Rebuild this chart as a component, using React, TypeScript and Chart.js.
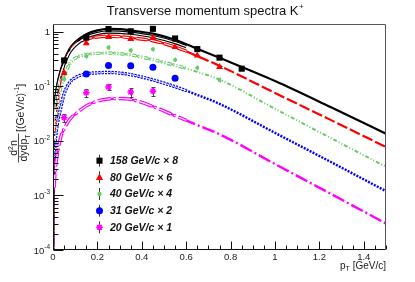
import React, { useEffect, useRef } from 'react';
import { Chart, registerables } from 'chart.js';
Chart.register(...registerables);

// ---------- data ----------
const CURVE_PT = [0, 0.002, 0.005, 0.01, 0.02, 0.035, 0.05, 0.075, 0.1, 0.15, 0.2, 0.25, 0.3, 0.35, 0.45, 0.55, 0.65, 0.75, 1.0, 1.25, 1.5];
const CURVE_158 = [1e-5, 0.011, 0.028, 0.055, 0.11, 0.2, 0.3, 0.49, 0.65, 0.91, 1.07, 1.14, 1.13, 1.07, 0.93, 0.72, 0.49, 0.335, 0.126, 0.042, 0.0136];
const CURVE_80 = [1e-5, 0.006, 0.015, 0.03, 0.061, 0.155, 0.26, 0.44, 0.59, 0.74, 0.81, 0.835, 0.82, 0.78, 0.69, 0.53, 0.36, 0.24, 0.076, 0.0244, 0.00775];
const CURVE_40 = [1e-5, 0.0042, 0.0105, 0.021, 0.042, 0.095, 0.15, 0.26, 0.33, 0.385, 0.405, 0.412, 0.4, 0.38, 0.31, 0.245, 0.185, 0.134, 0.039, 0.0114, 0.00336];
const CURVE_31 = [1e-6, 0.002, 0.0049, 0.0098, 0.021, 0.041, 0.073, 0.118, 0.145, 0.17, 0.178, 0.181, 0.176, 0.165, 0.132, 0.099, 0.07, 0.048, 0.0141, 0.00415, 0.0012];
const CURVE_20 = [1e-7, 0.0006, 0.0014, 0.0029, 0.0059, 0.0118, 0.0166, 0.0248, 0.031, 0.044, 0.054, 0.059, 0.06, 0.058, 0.043, 0.029, 0.0195, 0.0133, 0.00378, 0.00108, 0.000306];

const BAND_PT = [0.005, 0.01, 0.02, 0.035, 0.05, 0.075, 0.1, 0.15, 0.2, 0.25, 0.3, 0.35, 0.45, 0.55, 0.6];
const BAND_158 = [0.024, 0.048, 0.095, 0.175, 0.26, 0.43, 0.57, 0.8, 0.94, 1.0, 0.99, 0.95, 0.82, 0.64, 0.54];
const BAND_80 = [0.015, 0.03, 0.061, 0.155, 0.26, 0.44, 0.59, 0.74, 0.81, 0.835, 0.82, 0.78, 0.69, 0.53, 0.445];
const BAND_40 = [0.0105, 0.021, 0.042, 0.095, 0.15, 0.26, 0.33, 0.385, 0.405, 0.412, 0.4, 0.38, 0.31, 0.245, 0.215];
const BAND_31 = [0.0049, 0.0098, 0.021, 0.041, 0.073, 0.118, 0.145, 0.17, 0.178, 0.181, 0.176, 0.165, 0.132, 0.099, 0.084];
const BAND_20 = [0.0014, 0.0029, 0.0059, 0.0118, 0.0166, 0.0248, 0.031, 0.044, 0.054, 0.059, 0.06, 0.058, 0.043, 0.029, 0.024];

const PT_158 = [0.05, 0.15, 0.25, 0.35, 0.45, 0.55, 0.65, 0.75, 0.85];
const Y_158 = [0.3, 0.79, 1.13, 1.03, 1.14, 0.76, 0.485, 0.338, 0.212];
const E_158 = [0.01, 0.02, 0.03, 0.03, 0.03, 0.02, 0.015, 0.01, 0.008];
const PT_80 = [0.05, 0.15, 0.25, 0.35, 0.45, 0.55, 0.65, 0.75];
const Y_80 = [0.179, 0.62, 0.81, 0.74, 0.78, 0.53, 0.37, 0.228];
const E_80 = [0.008, 0.02, 0.025, 0.025, 0.025, 0.02, 0.015, 0.01];
const PT_40 = [0.05, 0.15, 0.25, 0.35, 0.45, 0.55, 0.65, 0.75];
const Y_40 = [0.136, 0.36, 0.52, 0.46, 0.48, 0.31, 0.22, 0.132];
const E_40 = [0.014, 0.035, 0.05, 0.045, 0.045, 0.03, 0.022, 0.014];
const PT_31 = [0.15, 0.25, 0.35, 0.45, 0.55];
const Y_31 = [0.17, 0.242, 0.24, 0.225, 0.141];
const E_31 = [0.01, 0.012, 0.012, 0.012, 0.008];
const PT_20 = [0.05, 0.15, 0.25, 0.35, 0.45];
const Y_20 = [0.0268, 0.077, 0.098, 0.079, 0.082];
const E_20 = [0.0045, 0.013, 0.012, 0.015, 0.015];

const LEGEND_LABELS = ['158 GeV/c \u00d7 8', '80 GeV/c \u00d7 6', '40 GeV/c \u00d7 4', '31 GeV/c \u00d7 2', '20 GeV/c \u00d7 1'];
const X_TICKS = [0, 0.2, 0.4, 0.6, 0.8, 1, 1.2, 1.4];
const X_TICK_LABELS = ['0', '0.2', '0.4', '0.6', '0.8', '1', '1.2', '1.4'];
const Y_DECADES = [1e-4, 1e-3, 1e-2, 1e-1, 1];
const Y_LABEL_EXP = ['-4', '-3', '-2', '-1', ''];
const TITLE = 'Transverse momentum spectra K';

// ---------- styles ----------
const FONT = '"Liberation Sans", Arial, Helvetica, sans-serif';
const STYLES = [
  { color: '#000000', marker: 'rect', radius: 4.3, dash: [] as number[], width: 2.2, err: '#333', caps: true },
  { color: '#ff0000', marker: 'triangle', radius: 4, dash: [11, 3], width: 2.2, err: '#333', caps: true },
  { color: '#66cc66', marker: 'circle', radius: 2, dash: [4, 2, 1, 2, 1, 2], width: 2, err: '#5cbf5c', caps: false },
  { color: '#0000ff', marker: 'circle', radius: 3.5, dash: [2, 1.3], width: 2.4, err: '#333', caps: true },
  { color: '#ff00ff', marker: 'star', radius: 3.3, dash: [13, 3, 2, 3], width: 2.4, err: '#444', caps: true },
];

const pts = (xs: number[], ys: number[]) => xs.map((x, i) => ({ x, y: ys[i] }));

const POINTS = [
  [PT_158, Y_158, E_158],
  [PT_80, Y_80, E_80],
  [PT_40, Y_40, E_40],
  [PT_31, Y_31, E_31],
  [PT_20, Y_20, E_20],
];
const CURVES = [CURVE_158, CURVE_80, CURVE_40, CURVE_31, CURVE_20];
const BANDS = [BAND_158, BAND_80, BAND_40, BAND_31, BAND_20];

function drawMarker(ctx: CanvasRenderingContext2D, kind: string, x: number, y: number, color: string, r: number) {
  ctx.save();
  ctx.fillStyle = color;
  ctx.strokeStyle = color;
  ctx.beginPath();
  if (kind === 'rect') {
    const s = r / Math.SQRT2;
    ctx.fillRect(x - s, y - s, 2 * s, 2 * s);
  } else if (kind === 'triangle') {
    ctx.moveTo(x, y - r);
    ctx.lineTo(x + r * 0.9, y + r * 0.65);
    ctx.lineTo(x - r * 0.9, y + r * 0.65);
    ctx.closePath();
    ctx.fill();
  } else if (kind === 'circle') {
    ctx.arc(x, y, r, 0, Math.PI * 2);
    ctx.fill();
  } else if (kind === 'star') {
    ctx.lineWidth = 1.5;
    for (let k = 0; k < 4; k++) {
      const a = (k * Math.PI) / 4;
      ctx.moveTo(x - r * Math.cos(a), y - r * Math.sin(a));
      ctx.lineTo(x + r * Math.cos(a), y + r * Math.sin(a));
    }
    ctx.stroke();
  }
  ctx.restore();
}

const decor = {
  id: 'rootDecor',
  beforeDatasetDraw(chart: any, args: any) {
    if (args.index !== 4) return;
    const ctx: CanvasRenderingContext2D = chart.ctx;
    const xs = chart.scales.x;
    const ys = chart.scales.y;
    ctx.save();
    ctx.lineWidth = 1;
    POINTS.forEach(([px, py, pe], s) => {
      const st = STYLES[s];
      ctx.strokeStyle = st.err;
      px.forEach((v, i) => {
        const x = Math.round(xs.getPixelForValue(v)) + 0.5;
        const y0 = ys.getPixelForValue(py[i] - pe[i]);
        const y1 = ys.getPixelForValue(py[i] + pe[i]);
        ctx.beginPath();
        ctx.moveTo(x, y0);
        ctx.lineTo(x, y1);
        if (st.caps) {
          ctx.moveTo(x - 2, Math.round(y0) + 0.5);
          ctx.lineTo(x + 2, Math.round(y0) + 0.5);
          ctx.moveTo(x - 2, Math.round(y1) + 0.5);
          ctx.lineTo(x + 2, Math.round(y1) + 0.5);
        }
        ctx.stroke();
      });
    });
    ctx.restore();
  },
  afterDraw(chart: any) {
    const ctx: CanvasRenderingContext2D = chart.ctx;
    const a = chart.chartArea;
    const xs = chart.scales.x;
    const ys = chart.scales.y;
    ctx.save();
    // frame
    ctx.lineWidth = 1;
    ctx.strokeStyle = '#555';
    ctx.beginPath();
    ctx.moveTo(a.left + 0.5, a.top + 0.5);
    ctx.lineTo(a.right - 0.5, a.top + 0.5);
    ctx.lineTo(a.right - 0.5, a.bottom - 0.5);
    ctx.stroke();
    ctx.strokeStyle = '#111';
    ctx.beginPath();
    ctx.moveTo(a.left + 0.5, a.top + 0.5);
    ctx.lineTo(a.left + 0.5, a.bottom - 0.5);
    ctx.lineTo(a.right - 0.5, a.bottom - 0.5);
    ctx.stroke();
    // x ticks
    ctx.beginPath();
    for (let k = 0; k <= 30; k++) {
      const x = Math.round(xs.getPixelForValue(k * 0.05)) + 0.5;
      const len = k % 4 === 0 ? 8 : 4;
      ctx.moveTo(x, a.bottom - 0.5);
      ctx.lineTo(x, a.bottom - 0.5 - len);
    }
    // y ticks
    for (let e = -4; e <= 0; e++) {
      for (let m = 1; m <= 9; m++) {
        const v = m * Math.pow(10, e);
        if (v > ys.max) continue;
        const y = Math.round(ys.getPixelForValue(v)) + 0.5;
        const len = m === 1 ? 10 : 5;
        ctx.moveTo(a.left + 0.5, y);
        ctx.lineTo(a.left + 0.5 + len, y);
      }
    }
    ctx.stroke();

    ctx.fillStyle = '#222';
    // x tick labels
    ctx.font = `9.5px ${FONT}`;
    ctx.textAlign = 'center';
    ctx.textBaseline = 'alphabetic';
    X_TICKS.forEach((v, i) => {
      ctx.fillText(X_TICK_LABELS[i], xs.getPixelForValue(v), a.bottom + 9.5);
    });
    // y tick labels
    ctx.textAlign = 'left';
    Y_DECADES.forEach((v, i) => {
      const y = ys.getPixelForValue(v);
      const exp = Y_LABEL_EXP[i];
      const right = a.left - 3;
      if (!exp) {
        ctx.font = `9.5px ${FONT}`;
        const w = ctx.measureText('1').width;
        ctx.fillText('1', right - w, y + 3.5);
      } else {
        ctx.font = `6.5px ${FONT}`;
        const we = ctx.measureText(exp).width;
        ctx.font = `9.5px ${FONT}`;
        const wb = ctx.measureText('10').width;
        ctx.fillText('10', right - we - wb, y + 3.5);
        ctx.font = `6.5px ${FONT}`;
        ctx.fillText(exp, right - we, y - 1);
      }
    });

    // title
    ctx.fillStyle = '#111';
    ctx.font = `13px ${FONT}`;
    const tw = ctx.measureText(TITLE).width;
    ctx.font = `8px ${FONT}`;
    const pw = ctx.measureText('+').width;
    const tx = 205 - (tw + pw) / 2;
    ctx.font = `13px ${FONT}`;
    ctx.fillText(TITLE, tx, 15);
    ctx.font = `8px ${FONT}`;
    ctx.fillText('+', tx + tw + 0.5, 9);

    // x axis title
    ctx.fillStyle = '#222';
    ctx.font = `10px ${FONT}`;
    const rest = ' [GeV/c]';
    const wr = ctx.measureText(rest).width;
    const wp = ctx.measureText('p').width;
    ctx.font = `7px ${FONT}`;
    const wt = ctx.measureText('T').width;
    const xx = a.right - wr - wt - wp;
    ctx.font = `10px ${FONT}`;
    ctx.fillText('p', xx, 268.5);
    ctx.font = `7px ${FONT}`;
    ctx.fillText('T', xx + wp, 271);
    ctx.font = `10px ${FONT}`;
    ctx.fillText(rest, xx + wp + wt, 268.5);

    // y axis title (rotated)
    ctx.save();
    ctx.translate(20, 0);
    ctx.rotate(-Math.PI / 2);
    ctx.font = `10.5px ${FONT}`;
    const wd = ctx.measureText('d').width;
    const wn = ctx.measureText('n').width;
    ctx.font = `7px ${FONT}`;
    const w2 = ctx.measureText('2').width;
    const fracCenter = -148;
    let u = fracCenter - (wd + w2 + wn) / 2;
    ctx.font = `10.5px ${FONT}`;
    ctx.fillText('d', u, -3.5);
    ctx.font = `7px ${FONT}`;
    ctx.fillText('2', u + wd, -7.5);
    ctx.font = `10.5px ${FONT}`;
    ctx.fillText('n', u + wd + w2, -3.5);
    const wdy = ctx.measureText('dydp').width;
    ctx.font = `7px ${FONT}`;
    const wT = ctx.measureText('T').width;
    u = fracCenter - (wdy + wT) / 2;
    ctx.font = `10.5px ${FONT}`;
    ctx.fillText('dydp', u, 7);
    ctx.font = `7px ${FONT}`;
    ctx.fillText('T', u + wdy, 9.5);
    ctx.strokeStyle = '#222';
    ctx.lineWidth = 0.8;
    ctx.beginPath();
    ctx.moveTo(fracCenter - (wdy + wT) / 2 - 1, -1.5);
    ctx.lineTo(fracCenter + (wdy + wT) / 2 + 1, -1.5);
    ctx.stroke();
    ctx.font = `10.5px ${FONT}`;
    const s1 = '[(GeV/c)';
    const w1 = ctx.measureText(s1).width;
    const uu = -132;
    ctx.fillText(s1, uu, 3.5);
    ctx.font = `7px ${FONT}`;
    ctx.fillText('-1', uu + w1, -1.5);
    const wm = ctx.measureText('-1').width;
    ctx.font = `10.5px ${FONT}`;
    ctx.fillText(']', uu + w1 + wm, 3.5);
    ctx.restore();

    // legend
    const rows = [160.7, 177.3, 194, 210.7, 227.3];
    ctx.font = `italic bold 10.5px ${FONT}`;
    ctx.textBaseline = 'middle';
    LEGEND_LABELS.forEach((lab, i) => {
      const y = rows[i];
      const st = STYLES[i];
      ctx.strokeStyle = '#333';
      ctx.lineWidth = 1;
      ctx.beginPath();
      ctx.moveTo(99.5, y - 6);
      ctx.lineTo(99.5, y + 6);
      ctx.stroke();
      drawMarker(ctx, st.marker, 99.5, y, st.color, i === 2 ? 2.2 : st.radius);
      ctx.fillStyle = '#111';
      ctx.fillText(lab, 110, y + 0.5);
    });
    ctx.restore();
  },
};

export default function App() {
  const ref = useRef<HTMLCanvasElement>(null);
  useEffect(() => {
    document.body.style.margin = '0';
    const canvas = ref.current!;
    const datasets: any[] = [];
    POINTS.forEach(([px, py], i) => {
      const st = STYLES[i];
      datasets.push({
        data: pts(px, py),
        showLine: false,
        pointStyle: st.marker,
        pointRadius: st.radius,
        pointBackgroundColor: st.color,
        pointBorderColor: st.color,
        pointBorderWidth: st.marker === 'star' ? 1.5 : 0,
        borderColor: st.color,
        backgroundColor: st.color,
      });
    });
    BANDS.forEach((b, i) => {
      const st = STYLES[i];
      datasets.push({
        data: pts(BAND_PT, b),
        borderColor: '#ffffff',
        borderWidth: 1.1,
        borderDash: i === 0 ? [] : st.dash,
        pointRadius: 0,
        fill: false,
      });
    });
    BANDS.forEach((b, i) => {
      const st = STYLES[i];
      datasets.push({
        data: pts(BAND_PT, b),
        borderColor: st.color,
        borderWidth: 3.4,
        borderDash: i === 0 ? [] : st.dash,
        pointRadius: 0,
        fill: false,
      });
    });
    CURVES.forEach((c, i) => {
      const st = STYLES[i];
      datasets.push({
        data: pts(CURVE_PT, c),
        borderColor: st.color,
        borderWidth: st.width,
        borderDash: st.dash,
        pointRadius: 0,
        fill: false,
      });
    });

    const chart = new Chart(canvas, {
      type: 'line',
      data: { datasets },
      options: {
        animation: false,
        responsive: false,
        devicePixelRatio: 1,
        layout: { padding: { left: 53, right: 29, top: 24, bottom: 32 } },
        plugins: {
          legend: { display: false },
          title: { display: false },
          tooltip: { enabled: false },
        },
        elements: { line: { cubicInterpolationMode: 'monotone' } },
        scales: {
          x: { type: 'linear', min: 0, max: 1.5, display: false },
          y: { type: 'logarithmic', min: 1e-4, max: 1.4, display: false },
        },
      } as any,
      plugins: [decor as any],
    });
    return () => chart.destroy();
  }, []);
  return (
    <div style={{ width: 415, height: 282, position: 'relative' }}>
      <canvas ref={ref} width={415} height={282} style={{ display: 'block', width: 415, height: 282 }} />
    </div>
  );
}
